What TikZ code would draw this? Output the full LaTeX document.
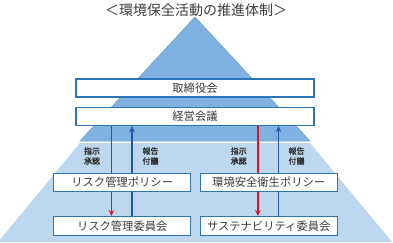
\documentclass[tikz,border=0pt]{standalone}
\usepackage{fontspec}
\setmainfont{Noto Sans CJK JP}
\newfontfamily\tagfont{Noto Sans CJK JP}[FakeBold=1.6]
\usepackage{xcolor}
\usepackage{tikz}
\usetikzlibrary{arrows.meta, positioning}
\definecolor{pyramid}{HTML}{7FB2E0}
\definecolor{pyramidedge}{HTML}{6AA2D8}
\definecolor{groundblue}{HTML}{BDD7EE}
\definecolor{boxline}{HTML}{2E75B6}
\definecolor{textgray}{HTML}{3C3C3C}
\definecolor{orderred}{HTML}{E3121F}
\definecolor{reportblue}{HTML}{1F58A6}
\tikzset{
  unit/.style      = {rectangle, draw=boxline, line width=1.1pt, fill=white,
                      text=textgray, inner sep=0pt,
                      font=\fontsize{11.3}{13}\selectfont},
  topunit/.style   = {unit, minimum width=238pt, minimum height=18pt},
  subunit/.style   = {unit, minimum width=137pt, minimum height=18.5pt},
  tag/.style       = {font=\fontsize{8}{10}\tagfont, text=textgray!80!black,
                      align=center, inner sep=0pt},
  order/.style     = {orderred, line width=1.2pt},
  report/.style    = {reportblue, line width=1.2pt},
  arrow/.style     = {-{Stealth[length=6pt, width=5.5pt]}}
}

\begin{document}
\begin{tikzpicture}[x=1pt, y=-1pt]
  \useasboundingbox (0,0) rectangle (393,242);
  % background shapes
  \fill[groundblue] (80,143) -- (310,143) -- (392,242) -- (-2,242) -- cycle;
  \filldraw[fill=pyramid, draw=pyramidedge, line width=0.6pt] (195,17) -- (310,141) -- (80,141) -- cycle;
  \node[font=\fontsize{14}{16}\selectfont, text=textgray] (title) at (196,10) {＜環境保全活動の推進体制＞};
  \node[topunit] (board) at (195,88) {取締役会};
  \node[topunit] (mgmt) at (195,116.5) {経営会議};
  \node[subunit] (riskpol) at (122.2,182.5) {リスク管理ポリシー};
  \node[subunit] (envpol) at (268.7,182.5) {環境安全衛生ポリシー};
  \node[subunit] (riskcom) at (122.2,225.8) {リスク管理委員会};
  \node[subunit] (suscom) at (268.7,225.8) {サステナビリティ委員会};
  % instructions down, reports up
  \draw[order] ([xshift=-10.8pt]riskpol.north |- mgmt.south) -- ([xshift=-10.8pt]riskpol.north);
  \draw[order, arrow] ([xshift=-10.8pt]riskpol.south) -- ([xshift=-10.8pt]riskcom.north);
  \draw[report] ([xshift=9.8pt]riskcom.north) -- ([xshift=9.8pt]riskpol.south);
  \draw[report, arrow] ([xshift=9.8pt]riskpol.north) -- ([xshift=9.8pt]riskpol.north |- mgmt.south);
  \draw[order] ([xshift=-10.8pt]envpol.north |- mgmt.south) -- ([xshift=-10.8pt]envpol.north);
  \draw[order, arrow] ([xshift=-10.8pt]envpol.south) -- ([xshift=-10.8pt]suscom.north);
  \draw[report] ([xshift=9.8pt]suscom.north) -- ([xshift=9.8pt]envpol.south);
  \draw[report, arrow] ([xshift=9.8pt]envpol.north) -- ([xshift=9.8pt]envpol.north |- mgmt.south);
  \node[tag] (riskorder) at (92,156) {指示\\承認};
  \node[tag] (riskreport) at (150.5,156) {報告\\付議};
  \node[tag] (envorder) at (238.8,156) {指示\\承認};
  \node[tag] (envreport) at (296.5,156) {報告\\付議};
\end{tikzpicture}
\end{document}
